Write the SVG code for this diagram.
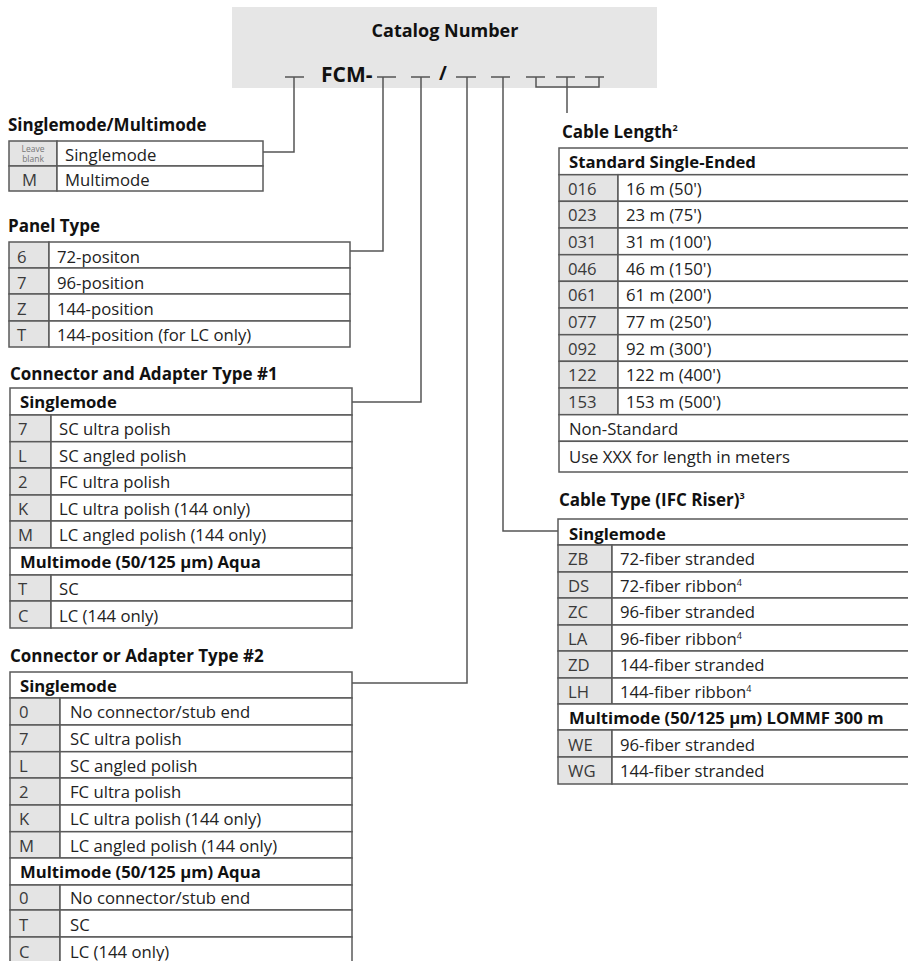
<svg xmlns="http://www.w3.org/2000/svg" width="908" height="961" viewBox="0 0 908 961">
<style>
.bg{fill:#fff}
.ln{stroke:#555;stroke-width:1.5;fill:none}
.cd{fill:#e4e4e4;stroke:#5a5a5a;stroke-width:1.5}
.ds{fill:#fff;stroke:#5a5a5a;stroke-width:1.5}
.t{font-family:"Open Sans","Noto Sans","Liberation Sans",sans-serif;font-size:16.7px;fill:#222}
.k{fill:#3a3a3a}
.b{font-weight:bold;fill:#111}
.h{font-family:"Open Sans","Noto Sans","Liberation Sans",sans-serif;font-size:17px;font-weight:bold;fill:#111}
.sm{font-family:"Open Sans","Noto Sans","Liberation Sans",sans-serif;font-size:8.5px;fill:#777}
.sup{font-size:9px}
</style>
<rect class="bg" x="0" y="0" width="908" height="961"/>

<g id="header">
<rect x="232" y="7" width="425" height="81" fill="#e6e6e6"/>
<text class="h" x="445" y="37" text-anchor="middle" style="font-size:18px">Catalog Number</text>
<text class="h" x="321" y="82" style="font-size:21px">FCM-</text>
<text class="h" x="443" y="80" text-anchor="middle" style="font-size:19px">/</text>
</g>

<g id="connectors" class="ln">
<path d="M285 77H304M294 77V152H263"/>
<path d="M377 77H396M383 77V251H350"/>
<path d="M411 77H430M421 77V402H352"/>
<path d="M456 77H476M467 77V683H352"/>
<path d="M491 77H510M503 77V531H558"/>
<path d="M526 77H545M556 77H575M585 77H604M536 77V87H599V77M567 77V113"/>
</g>

<g id="t-mode">
<text class="h" x="8" y="131">Singlemode/Multimode</text>
<rect class="cd" x="9" y="141" width="48" height="25"/><rect class="ds" x="57" y="141" width="206" height="25"/>
<rect class="cd" x="9" y="166" width="48" height="25"/><rect class="ds" x="57" y="166" width="206" height="25"/>
<text class="sm" x="33" y="151.5" text-anchor="middle">Leave</text>
<text class="sm" x="33" y="161.5" text-anchor="middle">blank</text>
<text class="t" x="65" y="161">Singlemode</text>
<text class="t k" x="22" y="186">M</text>
<text class="t" x="65" y="186">Multimode</text>
</g>

<g id="t-panel">
<text class="h" x="8" y="232">Panel Type</text>
<rect class="cd" x="9" y="242" width="40" height="26"/><rect class="ds" x="49" y="242" width="301" height="26"/>
<rect class="cd" x="9" y="268" width="40" height="26"/><rect class="ds" x="49" y="268" width="301" height="26"/>
<rect class="cd" x="9" y="294" width="40" height="27"/><rect class="ds" x="49" y="294" width="301" height="27"/>
<rect class="cd" x="9" y="321" width="40" height="26"/><rect class="ds" x="49" y="321" width="301" height="26"/>
<text class="t k" x="17" y="262.5">6</text><text class="t" x="57" y="262.5">72-positon</text>
<text class="t k" x="17" y="288.5">7</text><text class="t" x="57" y="288.5">96-position</text>
<text class="t k" x="17" y="315">Z</text><text class="t" x="57" y="315">144-position</text>
<text class="t k" x="17" y="341">T</text><text class="t" x="57" y="341">144-position (for LC only)</text>
</g>

<g id="t-conn1">
<text class="h" x="10" y="380">Connector and Adapter Type #1</text>
<rect class="ds" x="10" y="388" width="342" height="27"/>
<rect class="cd" x="10" y="415" width="41" height="26.7"/><rect class="ds" x="51" y="415" width="301" height="26.7"/>
<rect class="cd" x="10" y="441.7" width="41" height="26.3"/><rect class="ds" x="51" y="441.7" width="301" height="26.3"/>
<rect class="cd" x="10" y="468" width="41" height="27"/><rect class="ds" x="51" y="468" width="301" height="27"/>
<rect class="cd" x="10" y="495" width="41" height="26"/><rect class="ds" x="51" y="495" width="301" height="26"/>
<rect class="cd" x="10" y="521" width="41" height="27"/><rect class="ds" x="51" y="521" width="301" height="27"/>
<rect class="ds" x="10" y="548" width="342" height="27"/>
<rect class="cd" x="10" y="575" width="41" height="26"/><rect class="ds" x="51" y="575" width="301" height="26"/>
<rect class="cd" x="10" y="601" width="41" height="27"/><rect class="ds" x="51" y="601" width="301" height="27"/>
<text class="t b" x="20" y="408">Singlemode</text>
<text class="t k" x="18" y="435">7</text><text class="t" x="59" y="435">SC ultra polish</text>
<text class="t k" x="18" y="461.5">L</text><text class="t" x="59" y="461.5">SC angled polish</text>
<text class="t k" x="18" y="488">2</text><text class="t" x="59" y="488">FC ultra polish</text>
<text class="t k" x="18" y="514.5">K</text><text class="t" x="59" y="514.5">LC ultra polish (144 only)</text>
<text class="t k" x="18" y="541">M</text><text class="t" x="59" y="541">LC angled polish (144 only)</text>
<text class="t b" x="20" y="568">Multimode (50/125 µm) Aqua</text>
<text class="t k" x="18" y="595">T</text><text class="t" x="59" y="595">SC</text>
<text class="t k" x="18" y="621.5">C</text><text class="t" x="59" y="621.5">LC (144 only)</text>
</g>

<g id="t-conn2">
<text class="h" x="10" y="662">Connector or Adapter Type #2</text>
<rect class="ds" x="10" y="672" width="342" height="26"/>
<rect class="cd" x="10" y="698" width="50" height="27"/><rect class="ds" x="60" y="698" width="292" height="27"/>
<rect class="cd" x="10" y="725" width="50" height="26.7"/><rect class="ds" x="60" y="725" width="292" height="26.7"/>
<rect class="cd" x="10" y="751.7" width="50" height="26.3"/><rect class="ds" x="60" y="751.7" width="292" height="26.3"/>
<rect class="cd" x="10" y="778" width="50" height="27"/><rect class="ds" x="60" y="778" width="292" height="27"/>
<rect class="cd" x="10" y="805" width="50" height="26.7"/><rect class="ds" x="60" y="805" width="292" height="26.7"/>
<rect class="cd" x="10" y="831.7" width="50" height="26.3"/><rect class="ds" x="60" y="831.7" width="292" height="26.3"/>
<rect class="ds" x="10" y="858" width="342" height="27"/>
<rect class="cd" x="10" y="885" width="50" height="25"/><rect class="ds" x="60" y="885" width="292" height="25"/>
<rect class="cd" x="10" y="910" width="50" height="27"/><rect class="ds" x="60" y="910" width="292" height="27"/>
<rect class="cd" x="10" y="937" width="50" height="27"/><rect class="ds" x="60" y="937" width="292" height="27"/>
<text class="t b" x="20" y="691.5">Singlemode</text>
<text class="t k" x="19" y="718">0</text><text class="t" x="70" y="718">No connector/stub end</text>
<text class="t k" x="19" y="745">7</text><text class="t" x="70" y="745">SC ultra polish</text>
<text class="t k" x="19" y="771.5">L</text><text class="t" x="70" y="771.5">SC angled polish</text>
<text class="t k" x="19" y="798">2</text><text class="t" x="70" y="798">FC ultra polish</text>
<text class="t k" x="19" y="825">K</text><text class="t" x="70" y="825">LC ultra polish (144 only)</text>
<text class="t k" x="19" y="851.5">M</text><text class="t" x="70" y="851.5">LC angled polish (144 only)</text>
<text class="t b" x="20" y="878">Multimode (50/125 µm) Aqua</text>
<text class="t k" x="19" y="904">0</text><text class="t" x="70" y="904">No connector/stub end</text>
<text class="t k" x="19" y="930.5">T</text><text class="t" x="70" y="930.5">SC</text>
<text class="t k" x="19" y="957.5">C</text><text class="t" x="70" y="957.5">LC (144 only)</text>
</g>

<g id="t-length">
<text class="h" x="562" y="138">Cable Length<tspan class="sup" dy="-7">2</tspan></text>
<rect class="ds" x="559" y="148" width="360" height="26.7"/>
<rect class="cd" x="559" y="174.7" width="59" height="26.6"/><rect class="ds" x="618" y="174.7" width="301" height="26.6"/>
<rect class="cd" x="559" y="201.3" width="59" height="26.7"/><rect class="ds" x="618" y="201.3" width="301" height="26.7"/>
<rect class="cd" x="559" y="228" width="59" height="26.7"/><rect class="ds" x="618" y="228" width="301" height="26.7"/>
<rect class="cd" x="559" y="254.7" width="59" height="26.6"/><rect class="ds" x="618" y="254.7" width="301" height="26.6"/>
<rect class="cd" x="559" y="281.3" width="59" height="26.7"/><rect class="ds" x="618" y="281.3" width="301" height="26.7"/>
<rect class="cd" x="559" y="308" width="59" height="26.7"/><rect class="ds" x="618" y="308" width="301" height="26.7"/>
<rect class="cd" x="559" y="334.7" width="59" height="26.6"/><rect class="ds" x="618" y="334.7" width="301" height="26.6"/>
<rect class="cd" x="559" y="361.3" width="59" height="26.7"/><rect class="ds" x="618" y="361.3" width="301" height="26.7"/>
<rect class="cd" x="559" y="388" width="59" height="26.7"/><rect class="ds" x="618" y="388" width="301" height="26.7"/>
<rect class="ds" x="559" y="414.7" width="360" height="26.6"/>
<rect class="ds" x="559" y="441.3" width="360" height="30.7"/>
<text class="t b" x="569" y="168">Standard Single-Ended</text>
<text class="t k" x="568" y="194.7">016</text><text class="t" x="626" y="194.7">16 m (50')</text>
<text class="t k" x="568" y="221.3">023</text><text class="t" x="626" y="221.3">23 m (75')</text>
<text class="t k" x="568" y="248">031</text><text class="t" x="626" y="248">31 m (100')</text>
<text class="t k" x="568" y="274.7">046</text><text class="t" x="626" y="274.7">46 m (150')</text>
<text class="t k" x="568" y="301.3">061</text><text class="t" x="626" y="301.3">61 m (200')</text>
<text class="t k" x="568" y="328">077</text><text class="t" x="626" y="328">77 m (250')</text>
<text class="t k" x="568" y="354.7">092</text><text class="t" x="626" y="354.7">92 m (300')</text>
<text class="t k" x="568" y="381.3">122</text><text class="t" x="626" y="381.3">122 m (400')</text>
<text class="t k" x="568" y="408">153</text><text class="t" x="626" y="408">153 m (500')</text>
<text class="t" x="569" y="434.7">Non-Standard</text>
<text class="t" x="569" y="463">Use XXX for length in meters</text>
</g>

<g id="t-ctype">
<text class="h" x="559" y="506">Cable Type (IFC Riser)<tspan class="sup" dy="-7">3</tspan></text>
<rect class="ds" x="558" y="519" width="361" height="26"/>
<rect class="cd" x="558" y="545" width="54" height="27"/><rect class="ds" x="612" y="545" width="307" height="27"/>
<rect class="cd" x="558" y="572" width="54" height="26"/><rect class="ds" x="612" y="572" width="307" height="26"/>
<rect class="cd" x="558" y="598" width="54" height="27"/><rect class="ds" x="612" y="598" width="307" height="27"/>
<rect class="cd" x="558" y="625" width="54" height="26"/><rect class="ds" x="612" y="625" width="307" height="26"/>
<rect class="cd" x="558" y="651" width="54" height="27"/><rect class="ds" x="612" y="651" width="307" height="27"/>
<rect class="cd" x="558" y="678" width="54" height="26"/><rect class="ds" x="612" y="678" width="307" height="26"/>
<rect class="ds" x="558" y="704" width="361" height="26"/>
<rect class="cd" x="558" y="730" width="54" height="27"/><rect class="ds" x="612" y="730" width="307" height="27"/>
<rect class="cd" x="558" y="757" width="54" height="27"/><rect class="ds" x="612" y="757" width="307" height="27"/>
<text class="t b" x="569" y="539.5">Singlemode</text>
<text class="t k" x="568" y="565">ZB</text><text class="t" x="620" y="565">72-fiber stranded</text>
<text class="t k" x="568" y="591.5">DS</text><text class="t" x="620" y="591.5">72-fiber ribbon<tspan class="sup" dy="-6">4</tspan></text>
<text class="t k" x="568" y="618">ZC</text><text class="t" x="620" y="618">96-fiber stranded</text>
<text class="t k" x="568" y="644.5">LA</text><text class="t" x="620" y="644.5">96-fiber ribbon<tspan class="sup" dy="-6">4</tspan></text>
<text class="t k" x="568" y="671">ZD</text><text class="t" x="620" y="671">144-fiber stranded</text>
<text class="t k" x="568" y="697.5">LH</text><text class="t" x="620" y="697.5">144-fiber ribbon<tspan class="sup" dy="-6">4</tspan></text>
<text class="t b" x="569" y="724">Multimode (50/125 µm) LOMMF 300 m</text>
<text class="t k" x="568" y="750.5">WE</text><text class="t" x="620" y="750.5">96-fiber stranded</text>
<text class="t k" x="568" y="777">WG</text><text class="t" x="620" y="777">144-fiber stranded</text>
</g>
</svg>
